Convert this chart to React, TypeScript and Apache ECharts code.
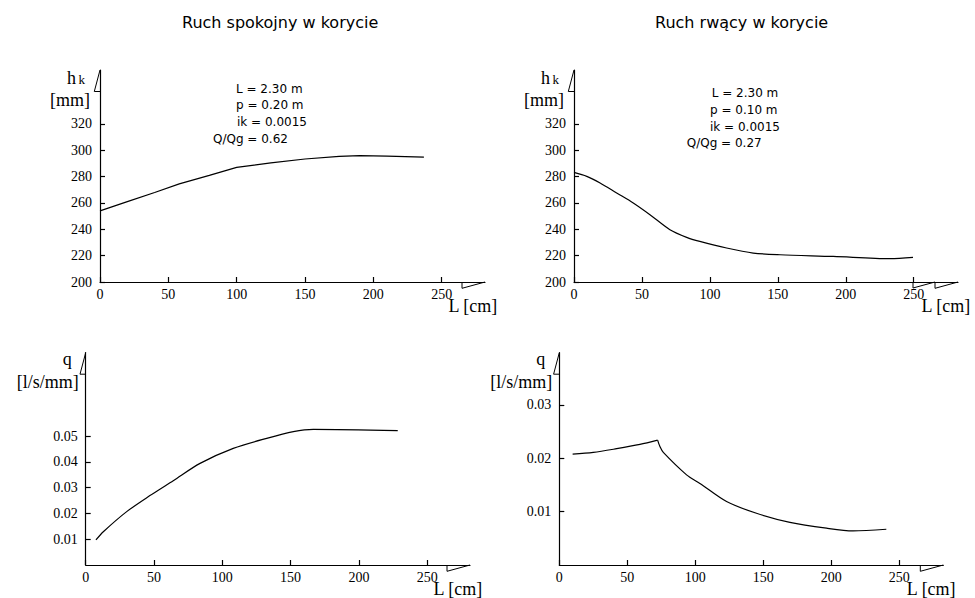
import React, { useEffect, useRef } from "react";
import * as echarts from "echarts";

// ---- data ----
const titles = ["Ruch spokojny w korycie", "Ruch rwący w korycie"];
const paramsLeft = ["L = 2.30 m", "p = 0.20 m", "ik = 0.0015", "Q/Qg = 0.62"];
const paramsRight = ["L = 2.30 m", "p = 0.10 m", "ik = 0.0015", "Q/Qg = 0.27"];

const xTicks = [0, 50, 100, 150, 200, 250];
const hTicks = [200, 220, 240, 260, 280, 300, 320];
const qTicksLeft = [0.01, 0.02, 0.03, 0.04, 0.05];
const qTicksRight = [0.01, 0.02, 0.03];

const spokojnyHL = [0, 20, 40, 58, 80, 100, 125, 150, 175, 190, 210, 237];
const spokojnyH = [254, 261, 268, 274.5, 281, 287, 290.5, 293.4, 295.4, 295.9, 295.6, 294.9];

const rwacyHL = [0, 9.4, 19.2, 31.4, 43.6, 55.9, 70.6, 82.9, 92.6, 112.3, 131.9, 151.6, 190.8, 232.7, 249.5];
const rwacyH = [283.2, 280.2, 275.2, 267.6, 260, 251.1, 239.7, 233.9, 230.8, 225.8, 222, 220.7, 219.4, 217.7, 218.7];

const spokojnyQL = [7.5, 12.9, 30, 47, 64.1, 83.7, 108, 132.5, 152, 166.6, 228.4];
const spokojnyQ = [0.0097, 0.0129, 0.0207, 0.0269, 0.0327, 0.0394, 0.0452, 0.0491, 0.0517, 0.0526, 0.0521];

const rwacyQL = [9.8, 25, 42.2, 59.3, 72.3, 74, 76.5, 93.6, 103.4, 123, 145, 169.6, 196.5, 216, 240.5];
const rwacyQ = [0.0208, 0.0211, 0.0218, 0.0226, 0.0234, 0.0222, 0.0211, 0.0169, 0.0153, 0.0119, 0.0097, 0.008, 0.0069, 0.0064, 0.0067];
// index of the sharp peak in the rwący q curve (curve is smoothed on each side of it)
const rwacyQPeak = 4;

const SERIF = '"Liberation Serif", "Times New Roman", serif';
const SANS = '"DejaVu Sans", Verdana, sans-serif';

type Panel = {
  left: number; top: number; width: number; height: number;
  xMax: number; yMin: number; yMax: number; yTicks: number[];
  xs: number[]; ys: number[]; smooth: number; splitAt?: number;
  yName: string; ySub?: string; yUnit: string;
};

const panels: Panel[] = [
  { left: 100, top: 70, width: 385, height: 212, xMax: 281.7, yMin: 200, yMax: 361, yTicks: hTicks, xs: spokojnyHL, ys: spokojnyH, smooth: 0, yName: "h", ySub: "k", yUnit: "[mm]" },
  { left: 574, top: 70, width: 384, height: 212, xMax: 282.6, yMin: 200, yMax: 361, yTicks: hTicks, xs: rwacyHL, ys: rwacyH, smooth: 0.3, yName: "h", ySub: "k", yUnit: "[mm]" },
  { left: 85.7, top: 352.7, width: 384.3, height: 212.3, xMax: 281.3, yMin: 0, yMax: 0.0823, yTicks: qTicksLeft, xs: spokojnyQL, ys: spokojnyQ, smooth: 0.3, yName: "q", yUnit: "[l/s/mm]" },
  { left: 559.3, top: 352.7, width: 384, height: 212.3, xMax: 282.4, yMin: 0, yMax: 0.0398, yTicks: qTicksRight, xs: rwacyQL, ys: rwacyQ, smooth: 0.3, splitAt: rwacyQPeak, yName: "q", yUnit: "[l/s/mm]" },
];

function textEl(text: string, x: number, y: number, font: string, align = "left") {
  return {
    type: "text",
    x,
    y,
    silent: true,
    style: { text, font, fill: "#000", textAlign: align, verticalAlign: "middle" },
  };
}

function lineEl(points: number[][]) {
  return {
    type: "polyline",
    silent: true,
    shape: { points },
    style: { stroke: "#000", fill: null, lineWidth: 1 },
  };
}

export default function App() {
  const ref = useRef<HTMLDivElement>(null);
  useEffect(() => {
    if (!ref.current) return;
    const chart = echarts.init(ref.current, undefined, { renderer: "svg" });

    const axisLineStyle = { color: "#000", width: 1.2 };
    const grids = panels.map((p) => ({
      left: p.left, top: p.top, width: p.width, height: p.height,
      containLabel: false, outerBoundsMode: "none",
    }));
    const xAxes = panels.map((p, i) => ({
      type: "value", gridIndex: i, min: 0, max: p.xMax,
      axisLine: { show: true, onZero: false, lineStyle: axisLineStyle },
      axisTick: { show: true, inside: true, length: 5, customValues: xTicks, lineStyle: axisLineStyle },
      axisLabel: { show: true, customValues: xTicks, margin: 5, color: "#000", fontFamily: SERIF, fontSize: 14 },
      splitLine: { show: false },
    }));
    const yAxes = panels.map((p, i) => ({
      type: "value", gridIndex: i, min: p.yMin, max: p.yMax,
      axisLine: { show: true, onZero: false, lineStyle: axisLineStyle },
      axisTick: { show: true, inside: true, length: 5, customValues: p.yTicks, lineStyle: axisLineStyle },
      axisLabel: { show: true, customValues: p.yTicks, margin: 8, color: "#000", fontFamily: SERIF, fontSize: 14 },
      splitLine: { show: false },
    }));
    const series: any[] = [];
    panels.forEach((p, i) => {
      const pts = p.xs.map((x, j) => [x, p.ys[j]]);
      const parts = p.splitAt !== undefined ? [pts.slice(0, p.splitAt + 1), pts.slice(p.splitAt)] : [pts];
      parts.forEach((data) => {
        series.push({
          type: "line", xAxisIndex: i, yAxisIndex: i,
          data,
          symbol: "none", showSymbol: false,
          smooth: p.smooth,
          lineStyle: { color: "#000", width: 1.2 },
          silent: true,
        });
      });
    });

    const graphics: any[] = [];
    // titles
    graphics.push(textEl(titles[0], 182, 22, `16px ${SANS}`));
    graphics.push(textEl(titles[1], 655, 22, `16px ${SANS}`));
    // parameter annotations
    const leftX = [236, 236, 237, 213];
    const leftY = [89, 105, 121.7, 139];
    paramsLeft.forEach((t, i) => graphics.push(textEl(t, leftX[i], leftY[i], `12px ${SANS}`)));
    const rightX = [711.7, 710, 710, 686.7];
    const rightY = [93, 109.5, 126.7, 142.7];
    paramsRight.forEach((t, i) => graphics.push(textEl(t, rightX[i], rightY[i], `12px ${SANS}`)));

    panels.forEach((p, i) => {
      const ax = p.left;
      const bottom = p.top + p.height;
      const end = p.left + p.width;
      // y-axis half arrow
      graphics.push(lineEl([[ax, p.top], [ax - 5.7, p.top + 21.5], [ax, p.top + 21.5]]));
      // x-axis half arrow
      graphics.push(lineEl([[end - 23, bottom], [end - 23, bottom + 6.3], [end, bottom]]));
      if (i === 1) {
        graphics.push(lineEl([[end - 45, bottom], [end - 45, bottom + 6], [end - 23, bottom]]));
      }
      // x-axis name
      graphics.push(textEl("L [cm]", end - 36.5, bottom + 23.5, `18px ${SERIF}`));
      // y-axis names
      if (p.ySub) {
        graphics.push(textEl(p.yName, ax - 24, p.top + 8, `18px ${SERIF}`, "right"));
        graphics.push(textEl(p.ySub, ax - 15, p.top + 9.5, `13px ${SERIF}`, "right"));
        graphics.push(textEl(p.yUnit, ax - 10, p.top + 29.5, `18px ${SERIF}`, "right"));
      } else {
        graphics.push(textEl(p.yName, ax - 14, p.top + 6, `18px ${SERIF}`, "right"));
        graphics.push(textEl(p.yUnit, ax - 7, p.top + 29, `18px ${SERIF}`, "right"));
      }
    });

    chart.setOption({
      animation: false,
      backgroundColor: "#fff",
      grid: grids,
      xAxis: xAxes,
      yAxis: yAxes,
      series,
      graphic: graphics,
    });
    return () => chart.dispose();
  }, []);

  return (
    <div
      ref={ref}
      style={{ position: "absolute", left: 0, top: 0, width: 975, height: 598, background: "#fff" }}
    />
  );
}
